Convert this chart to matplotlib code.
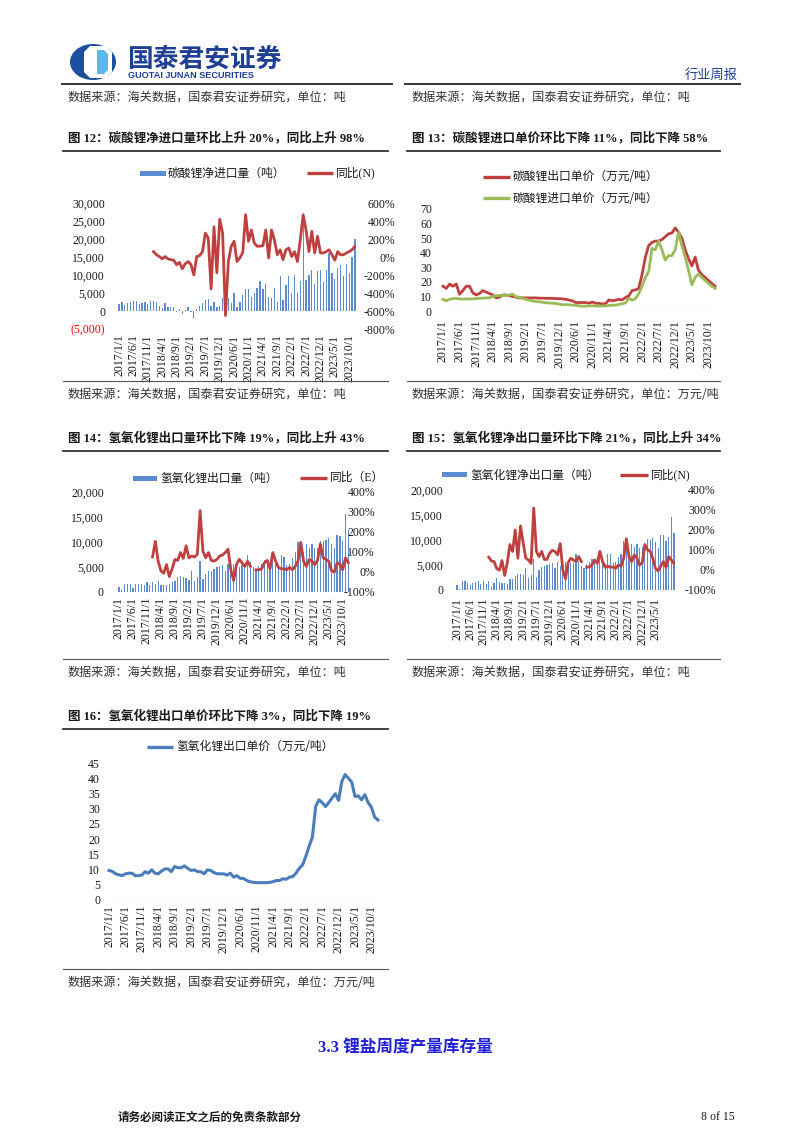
import numpy as np
import matplotlib
matplotlib.use('Agg')
import matplotlib.pyplot as plt
from matplotlib.patches import Rectangle, Ellipse, Polygon
from matplotlib.lines import Line2D

W, H = 802, 1133
CJK = ['Noto Sans CJK SC', 'DejaVu Sans']
MIX = ['Liberation Serif', 'Noto Sans CJK SC', 'DejaVu Sans']
plt.rcParams['font.family'] = MIX

# month categories (Jan 2020 is merged with Feb in customs data)
months = ([f'{y}/{m}/1' for y in range(2017, 2020) for m in range(1, 13)]
          + [f'2020/{m}/1' for m in range(2, 13)]
          + [f'{y}/{m}/1' for y in range(2021, 2024) for m in range(1, 13)])
nan = np.nan

# fig 12: lithium carbonate net import (t) and yoy (%), yoy starts 2018/1
li2co3_net_import = [
    2000, 2400, 1800, 2200, 2600, 2800, 2700, 2000, 2200, 2600, 2000, 2800,
    2800, 2400, 1300, 700, 2300, 1000, 1200, 1200, -300, 500, -900, 200,
    1000, -400, -2000, 600, 1500, 2200, 3000, 3300, 1500, 2400, 1000, 1500,
    3500, 3500, 3500, 2300,
    5100, 1000, 2500, 4400, 6000, 6000, 4000, 5000, 6500, 8200,
    6000, 7500, 4000, 3700, 6300, 2500, 9800, 3000, 7300, 9700,
    5000, 10000, 5000, 8300, 27000, 8700, 10000, 11500, 7500, 11000,
    11500, 8000, 11500, 16000, 10500, 8900, 12000, 12800, 9800, 13000,
    10500, 15000, 20000]
li2co3_import_yoy = [
    60, 25, 5, -20, 5, -20, -30, -35, -85, -60,
    -130, -75, -50, -85, -200, 5, 15, 60, 265, 210,
    -355, 335, -175, 420, 265, -650, -50, 120, 175, -50,
    -10, 50, 470, 175, 300, 155, 120, 120, 125, 300,
    -10, 300, 190, 25, 80, -30, 80, 100, 5, 60,
    -50, 190, 470, 300, 60, 285, 45, 230, 45, 45,
    60, 80, 25, -35, 60, 25, 25, 45, 60, 80, 120]

# fig 13: lithium carbonate unit prices (10k yuan/t)
li2co3_export_price = [
    17, 15.5, 18.5, 17, 18.5, 11.5, 14, 17, 17, 12.5,
    11, 12, 14, 13, 12, 11, 9, 9.5, 11, 11,
    10.5, 10, 9.5, 9, 9, 9, 9, 9, 9, 8.8,
    8.8, 8.7, 8.7, 8.7, 8.5, 8.5, 8.3, 8, 7.5, 7,
    5.8, 5.8, 5.8, 5.8, 5.3, 6.2, 5.3, 5.3, 4.8, 5,
    7.6, 7, 7.4, 8, 7.6, 9.2, 10.4, 14, 14.5, 15.5,
    25, 37, 45, 47, 48, 48, 49, 51, 53, 53.5,
    57, 54, 50, 42, 36, 31, 37, 28, 25, 23,
    21, 19, 17]
li2co3_import_price = [
    8, 7, 8, 8.5, 8.7, 8.2, 8.2, 8.3, 8.2, 8.3,
    8.5, 8.8, 8.8, 9, 9, 10, 10.5, 10.7, 10.7, 10.5,
    11, 11.5, 9.8, 9.5, 8.8, 8, 7.5, 6.8, 6.5, 6.3,
    6, 5.6, 5.5, 5.3, 5.2, 4.7, 4.3, 4.3, 4.3, 4,
    4, 3.5, 3.3, 3.3, 3.5, 3.5, 3.5, 3.3, 3.5, 3.5,
    3.8, 4, 4, 4.5, 5, 5.5, 8.7, 7.5, 8.5, 12,
    17, 23, 27, 43, 42, 48, 42, 35, 38, 38,
    42, 54, 45, 37, 28, 18, 23, 25.5, 23, 21,
    19, 17, 15.5]

# fig 14: lithium hydroxide export (t) and yoy (%)
lioh_export = [
    1100, 400, 1700, 1700, 1600, 900, 1700, 1700, 1700, 1400,
    2000, 1400, 2000, 1700, 2300, 1500, 1500, 1400, 1600, 2100,
    2200, 3000, 3300, 3000, 2800, 2500, 4300, 2200, 3000, 6200,
    2600, 3600, 4300, 4300, 4600, 5000, 5300, 5500, 4300, 5700,
    5000, 5700, 5700, 5000, 5500, 5500, 7400, 6000, 5000, 4500,
    5300, 5700, 6400, 6000, 5300, 6800, 6000, 5300, 7500, 7100,
    5500, 5700, 6800, 8100, 9900, 9500, 8100, 9600, 8800, 9600,
    8800, 8800, 10100, 10100, 10300, 10800, 9600, 8800, 11300, 11200,
    10100, 15500, 12300]
lioh_export_yoy = [
    75, 153, 54, 6, -6, 37, -23, 16, 63, 58,
    97, 68, 131, 71, 80, 75, 88, 307, 105, 71,
    97, 58, 54, 63, 80, 85, 97, 114, 11, -43,
    37, 63, 46, 28, 54, 28, nan,
    11, 11, 16, 46, 58, 16, 97, 54, 23, 16,
    16, 11, 23, 11, 28, 54, 148, 54, 28, 63,
    54, 37, 58, 140, 71, 63, 54, 6, -1, 46,
    40, 11, 71, 46]

# fig 15: lithium hydroxide net export (t) and yoy (%)
lioh_net_export = [
    1100, 200, 1900, 1900, 1400, 1100, 1400, 1700, 1900, 1300, 1900, 1200,
    1900, 700, 1400, 2500, 1700, 1500, 1500, 1300, 2200, 2300, 2900, 3200,
    3300, 3000, 4400, 2500, 3100, 6300, 2700, 4000, 4600, 4800, 5000, 5300,
    5500, 4500, 5600, 4800, 5600, 5700, 4800, 5400, 5400, 7200, 5900, 4900,
    4400, 5300, 5600, 6300, 5900, 5200, 6700, 5900, 5300, 7300, 7300, 5400,
    5600, 6700, 7200, 9800, 9300, 7500, 9300, 8600, 9300, 8500, 8600, 9500,
    10200, 10000, 10400, 9700, 8500, 11000, 11100, 9800, 10600, 14700, 11500]
lioh_net_export_yoy = [
    64, 45, 42, 8, -1, 47, -27, 37, 127, 93,
    200, 59, 220, 136, 59, 50, 33, 310, 93, 67,
    93, 53, 53, 84, 98, 93, 76, 132, -1, -44,
    37, 59, 50, 42, 67, 42, nan,
    13, 16, 25, 50, 33, 93, 42, 13, 20, 13,
    16, 8, 25, 20, 59, 156, 67, 42, 76, 59,
    25, 37, 127, 101, 93, 59, 8, -4, 20, 42,
    13, 67, 50, 33]

# fig 16: lithium hydroxide export unit price (10k yuan/t)
lioh_export_price = [
    9.7, 9.4, 8.6, 8.3, 8, 8.6, 8.8, 8.8, 8, 8,
    8.2, 9.3, 8.8, 9.9, 8.8, 8.6, 9.5, 10.2, 10.2, 9.3,
    11, 10.6, 10.6, 11.2, 10.4, 9.7, 9.9, 9.3, 9.3, 8.6,
    9.9, 9.7, 9, 8.6, 8.6, 8.6, 8.2, 8.8, 7.5, 8,
    7.1, 7.1, 6.4, 6, 5.8, 5.7, 5.7, 5.7, 5.7, 5.8,
    6, 6.4, 6.4, 7, 6.8, 7.5, 7.7, 8.8, 10.4, 11.5,
    14.3, 17.6, 20.6, 30.7, 32.9, 32, 30.7, 32, 33.5, 34.9,
    32.7, 39, 41.2, 40, 38.7, 34, 34.2, 32.9, 34.6, 32,
    30.5, 27.2, 26.3]

BAR = '#5B8BD0'
RED = '#C0403F'
GREEN = '#9BBB59'
BLUE = '#4A7DBA'
TXT = '#1a1a1a'

x = np.arange(len(months))
tick_idx = list(range(0, 81, 5))

fig = plt.figure(figsize=(W / 100, H / 100), dpi=100)


def px_axes(x0, x1, y0, y1):
    return fig.add_axes([x0 / W, 1 - y1 / H, (x1 - x0) / W, (y1 - y0) / H])


def ftext(px, py, s, **kw):
    kw.setdefault('va', 'center')
    kw.setdefault('color', TXT)
    fig.text(px / W, 1 - py / H, s, **kw)


def hline(x0, x1, py, lw=1.0, color='#333333'):
    fig.add_artist(Line2D([x0 / W, x1 / W], [1 - py / H] * 2, lw=lw, color=color))


def leg_patch(x0, x1, py, color):
    fig.add_artist(Rectangle((x0 / W, 1 - (py + 2.5) / H), (x1 - x0) / W, 5 / H,
                             facecolor=color, edgecolor='none', transform=fig.transFigure))


def leg_line(x0, x1, py, color, lw=2.4):
    fig.add_artist(Line2D([x0 / W, x1 / W], [1 - py / H] * 2, color=color, lw=lw,
                          solid_capstyle='butt'))


def base_style(ax, ypad, xpad, last=80):
    for s in ax.spines.values():
        s.set_visible(False)
    ax.tick_params(axis='both', length=0, labelsize=8.5, colors=TXT)
    ax.tick_params(axis='y', pad=ypad)
    ax.tick_params(axis='x', pad=xpad)
    idx = [i for i in tick_idx if i <= last]
    ax.set_xticks(idx)
    ax.set_xticklabels([months[i] for i in idx], rotation=90)
    ax.set_xlim(-0.5, len(months) - 0.5)
    ax.patch.set_alpha(0)


def right_axis(ax, ticks, pad):
    ax2 = ax.twinx()
    for s in ax2.spines.values():
        s.set_visible(False)
    ax2.set_ylim(ticks[0], ticks[-1])
    ax2.set_yticks(ticks)
    ax2.set_yticklabels([f'{t}%' for t in ticks], ha='right')
    ax2.tick_params(axis='y', length=0, labelsize=8.5, pad=pad, colors=TXT)
    return ax2


def title(px, py, s, x1):
    ftext(px, py, s, fontsize=9.0, fontweight='bold', family=MIX)
    hline(px - 5, x1, py + 13, lw=1.3)


def source(px, py, s, x1):
    hline(px - 5, x1, py - 13, lw=0.8, color='#555555')
    ftext(px, py, s, fontsize=8.7, family=CJK, color='#333333')


# ---- header ----
fig.add_artist(Ellipse((93 / W, 1 - 62 / H), 46 / W, 36 / H, facecolor='#1D4FA0',
                       edgecolor='none', transform=fig.transFigure))
oct_pts = [(90, 46), (106, 46), (112, 52), (112, 72), (106, 78), (90, 78), (84, 72), (84, 52)]
fig.add_artist(Polygon([(a / W, 1 - b / H) for a, b in oct_pts], closed=True,
                       facecolor='white', edgecolor='none', transform=fig.transFigure))
lb_pts = [(97, 50), (104, 50), (108, 54), (108, 70), (104, 74), (97, 74)]
fig.add_artist(Polygon([(a / W, 1 - b / H) for a, b in lb_pts], closed=True,
                       facecolor='#5BB8E8', edgecolor='none', transform=fig.transFigure))
ftext(127, 59, '国泰君安证券', fontsize=18.5, fontweight='bold', family=CJK, color='#1E3F94')
ftext(128, 75, 'GUOTAI JUNAN SECURITIES', fontsize=6.6, fontweight='bold',
      family=['Liberation Sans'], color='#1E3F94')
ftext(738, 75, '行业周报', fontsize=9.5, family=CJK, color='#1E3F94', ha='right')
hline(62, 392, 84, lw=1.4)
hline(405, 740, 84, lw=1.4)
ftext(68, 97, '数据来源：海关数据，国泰君安证券研究，单位：吨', fontsize=8.7, family=CJK, color='#333333')
ftext(412, 97, '数据来源：海关数据，国泰君安证券研究，单位：吨', fontsize=8.7, family=CJK, color='#333333')

# ---- fig 12 ----
title(68, 138, '图 12：碳酸锂净进口量环比上升 20%，同比上升 98%', 388)
ax = px_axes(117.6, 356.4, 203, 329)
ax.bar(x, li2co3_net_import, width=0.45, color=BAR)
ax.set_ylim(-5000, 30000)
yt = list(range(-5000, 30001, 5000))
ax.set_yticks(yt)
ax.set_yticklabels(['(5,000)' if v < 0 else f'{v:,}' for v in yt])
base_style(ax, 9, 4)
ax.get_yticklabels()[0].set_color('#FF0000')
ax2 = right_axis(ax, list(range(-800, 601, 200)), 27.8)
ax2.plot(x[12:], li2co3_import_yoy, color=RED, lw=2.0)
leg_patch(140, 166, 173, BAR)
ftext(168, 173, '碳酸锂净进口量（吨）', fontsize=8.5, family=CJK)
leg_line(307, 333, 173, RED)
ftext(336, 173, '同比(N)', fontsize=8.5, family=MIX)
source(68, 394, '数据来源：海关数据，国泰君安证券研究，单位：吨', 388)

# ---- fig 13 ----
title(412, 138, '图 13：碳酸锂进口单价环比下降 11%，同比下降 58%', 720)
ax = px_axes(441.3, 716.7, 209, 311)
ax.plot(x, li2co3_export_price, color=RED, lw=2.0)
ax.plot(x, li2co3_import_price, color=GREEN, lw=2.0)
ax.axhline(0, color='#BFBFBF', lw=0.8, zorder=0)
ax.set_ylim(0, 70)
ax.set_yticks(range(0, 71, 10))
base_style(ax, 6.7, 6.5)
leg_line(483, 510, 177, RED)
ftext(513, 177, '碳酸锂出口单价（万元/吨）', fontsize=8.5, family=CJK)
leg_line(483, 510, 198, GREEN)
ftext(513, 198, '碳酸锂进口单价（万元/吨）', fontsize=8.5, family=CJK)
source(412, 394, '数据来源：海关数据，国泰君安证券研究，单位：万元/吨', 720)

# ---- fig 14 ----
title(68, 438, '图 14：氢氧化锂出口量环比下降 19%，同比上升 43%', 388)
ax = px_axes(117.6, 349.7, 492, 592)
ax.bar(x, lioh_export, width=0.45, color=BAR)
ax.set_ylim(0, 20000)
yt = list(range(0, 20001, 5000))
ax.set_yticks(yt)
ax.set_yticklabels([f'{v:,}' for v in yt])
base_style(ax, 9.8, 3.6)
ax2 = right_axis(ax, list(range(-100, 401, 100)), 18.2)
ax2.plot(x[12:], lioh_export_yoy, color=RED, lw=2.0)
leg_patch(133, 157, 478, BAR)
ftext(160, 478, '氢氧化锂出口量（吨）', fontsize=8.5, family=CJK)
leg_line(300, 327, 478, RED)
ftext(330, 478, '同比（E）', fontsize=8.5, family=MIX)
source(68, 672, '数据来源：海关数据，国泰君安证券研究，单位：吨', 388)

# ---- fig 15 ----
title(412, 438, '图 15：氢氧化锂净出口量环比下降 21%，同比上升 34%', 720)
ax = px_axes(455.7, 675.3, 490, 590)
ax.bar(x, lioh_net_export, width=0.45, color=BAR)
ax.set_ylim(0, 20000)
ax.set_yticks(yt)
ax.set_yticklabels([f'{v:,}' for v in yt])
base_style(ax, 9.1, 5.5, last=75)
ax2 = right_axis(ax, list(range(-100, 401, 100)), 29)
ax2.plot(x[12:], lioh_net_export_yoy, color=RED, lw=2.0)
leg_patch(442, 467, 475, BAR)
ftext(470, 475, '氢氧化锂净出口量（吨）', fontsize=8.5, family=CJK)
leg_line(620, 648, 475, RED)
ftext(651, 475, '同比(N)', fontsize=8.5, family=MIX)
source(412, 672, '数据来源：海关数据，国泰君安证券研究，单位：吨', 720)

# ---- fig 16 ----
title(68, 716, '图 16：氢氧化锂出口单价环比下降 3%，同比下降 19%', 388)
ax = px_axes(107.4, 379.6, 763, 900)
ax.plot(x, lioh_export_price, color=BLUE, lw=2.2)
ax.axhline(0, color='#BFBFBF', lw=0.8, zorder=0)
ax.set_ylim(0, 45)
ax.set_yticks(range(0, 46, 5))
base_style(ax, 5.3, 3.6)
leg_line(147, 173, 747, BLUE)
ftext(176, 747, '氢氧化锂出口单价（万元/吨）', fontsize=8.5, family=CJK)
source(68, 982, '数据来源：海关数据，国泰君安证券研究，单位：万元/吨', 388)

# ---- section heading & footer ----
ftext(405, 1048, '3.3 锂盐周度产量库存量', fontsize=12, fontweight='bold', family=MIX,
      color='#1F1FD6', ha='center')
ftext(118, 1117, '请务必阅读正文之后的免责条款部分', fontsize=8.3, fontweight='bold', family=CJK)
ftext(735, 1117, '8 of 15', fontsize=8.5, family=MIX, ha='right')

fig.savefig('out.png', dpi=100)
